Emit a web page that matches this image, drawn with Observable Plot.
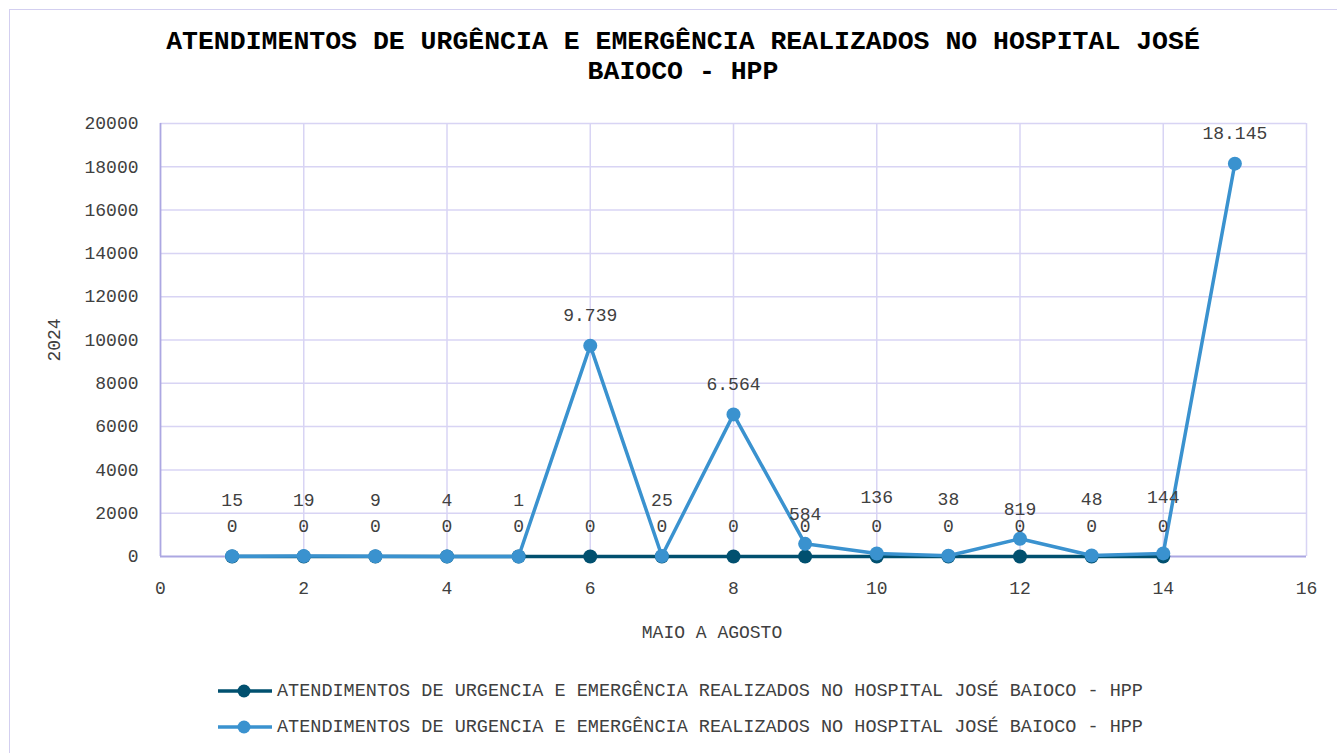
<!DOCTYPE html>
<html><head><meta charset="utf-8">
<script src="https://cdn.jsdelivr.net/npm/d3@7"></script>
<script src="https://cdn.jsdelivr.net/npm/@observablehq/plot@0.6"></script>
<style>
body{margin:0;background:#fff;font-family:"Liberation Mono","Courier New",monospace;}
#wrap{position:relative;width:1337px;height:753px;overflow:hidden;}
#frame{position:absolute;left:9px;top:9px;width:1400px;height:800px;border:1.5px solid #d3cff0;box-sizing:border-box;}
#title{position:absolute;top:27px;left:0;width:1366px;text-align:center;font-weight:bold;font-size:26.5px;line-height:30px;color:#000;}
#chart{position:absolute;left:0;top:0;}
#xlabel{position:absolute;top:622px;left:612px;width:200px;text-align:center;font-size:18px;line-height:22px;color:#404040;}
#ylabel{position:absolute;left:55px;top:340px;font-size:18px;line-height:22px;color:#404040;transform:translate(-50%,-50%) rotate(-90deg);white-space:nowrap;}
.leg{position:absolute;left:218px;height:24px;display:flex;align-items:center;font-size:18.5px;color:#404040;white-space:nowrap;}
.leg svg{margin-right:5px;}
</style></head>
<body>
<div id="wrap">
  <div id="frame"></div>
  <div id="chart"></div>
  <div id="title"></div>
  <div id="xlabel"></div>
  <div id="ylabel"></div>
  <div id="legend"></div>
</div>
<script>
const titleText = "ATENDIMENTOS DE URGÊNCIA E EMERGÊNCIA REALIZADOS NO HOSPITAL JOSÉ BAIOCO - HPP";
const xTitle = "MAIO A AGOSTO";
const yTitle = "2024";
const seriesNames = [
  "ATENDIMENTOS DE URGENCIA E EMERGÊNCIA REALIZADOS NO HOSPITAL JOSÉ BAIOCO - HPP",
  "ATENDIMENTOS DE URGENCIA E EMERGÊNCIA REALIZADOS NO HOSPITAL JOSÉ BAIOCO - HPP"
];
const seriesColors = ["#01506f", "#3a92cf"];
const xDark = [1,2,3,4,5,6,7,8,9,10,11,12,13,14];
const yDark = [0,0,0,0,0,0,0,0,0,0,0,0,0,0];
const xLight = [1,2,3,4,5,6,7,8,9,10,11,12,13,14,15];
const yLight = [15,19,9,4,1,9739,25,6564,584,136,38,819,48,144,18145];
const xTicks = [0,2,4,6,8,10,12,14,16];
const yTicks = [0,2000,4000,6000,8000,10000,12000,14000,16000,18000,20000];

document.getElementById("title").innerHTML = "ATENDIMENTOS DE URGÊNCIA E EMERGÊNCIA REALIZADOS NO HOSPITAL JOSÉ<br>BAIOCO - HPP";
document.getElementById("xlabel").textContent = xTitle;
document.getElementById("ylabel").textContent = yTitle;

const dark = xDark.map((x,i)=>({x, y:yDark[i]}));
const light = xLight.map((x,i)=>({x, y:yLight[i]}));
const fmt = d3.formatLocale({decimal:",", thousands:".", grouping:[3], currency:["",""]}).format(",d");
const txt = "#404040";
const font = "Liberation Mono";

const chart = Plot.plot({
  width: 1337, height: 660,
  marginLeft: 160, marginRight: 31, marginTop: 123, marginBottom: 104,
  style: {fontFamily: font, fontSize: "18px", color: txt, background: "transparent"},
  x: {domain: [0,16]},
  y: {domain: [0,20000]},
  marks: [
    Plot.gridY(yTicks.filter(d=>d>0), {stroke:"#d8d4f4", strokeOpacity:1, strokeWidth:1.5}),
    Plot.gridX(xTicks.filter(d=>d>0), {stroke:"#d8d4f4", strokeOpacity:1, strokeWidth:1.5}),
    Plot.ruleX([0], {stroke:"#aca7e2", strokeWidth:1.8}),
    Plot.ruleY([0], {stroke:"#aca7e2", strokeWidth:1.8}),
    Plot.axisX(xTicks, {tickSize:0, tickPadding:25, label:null, fill:txt, fontSize:18}),
    Plot.axisY(yTicks, {tickSize:0, tickPadding:22, label:null, tickFormat:d=>String(d), fill:txt, fontSize:18}),
    Plot.line(dark, {x:"x", y:"y", stroke:seriesColors[0], strokeWidth:3.5}),
    Plot.dot(dark, {x:"x", y:"y", fill:seriesColors[0], r:7}),
    Plot.line(light, {x:"x", y:"y", stroke:seriesColors[1], strokeWidth:3.5}),
    Plot.dot(light, {x:"x", y:"y", fill:seriesColors[1], r:7}),
    Plot.text(dark, {x:"x", y:"y", text:d=>fmt(d.y), dy:-30, fill:txt, fontSize:18}),
    Plot.text(light.filter(d=>d.y<500), {x:"x", y:"y", text:d=>fmt(d.y), dy:-56, fill:txt, fontSize:18}),
    Plot.text(light.filter(d=>d.y>=500), {x:"x", y:"y", text:d=>fmt(d.y), dy:-30, fill:txt, fontSize:18})
  ]
});
document.getElementById("chart").appendChild(chart);

const legend = document.getElementById("legend");
seriesNames.forEach((name,i)=>{
  const row = document.createElement("div");
  row.className = "leg";
  row.style.top = (679 + i*36) + "px";
  row.innerHTML = `<svg width="54" height="16"><line x1="0" x2="54" y1="8" y2="8" stroke="${seriesColors[i]}" stroke-width="3.5"/><circle cx="26" cy="8" r="6.5" fill="${seriesColors[i]}"/></svg><span>${name}</span>`;
  legend.appendChild(row);
});
</script>
</body></html>
